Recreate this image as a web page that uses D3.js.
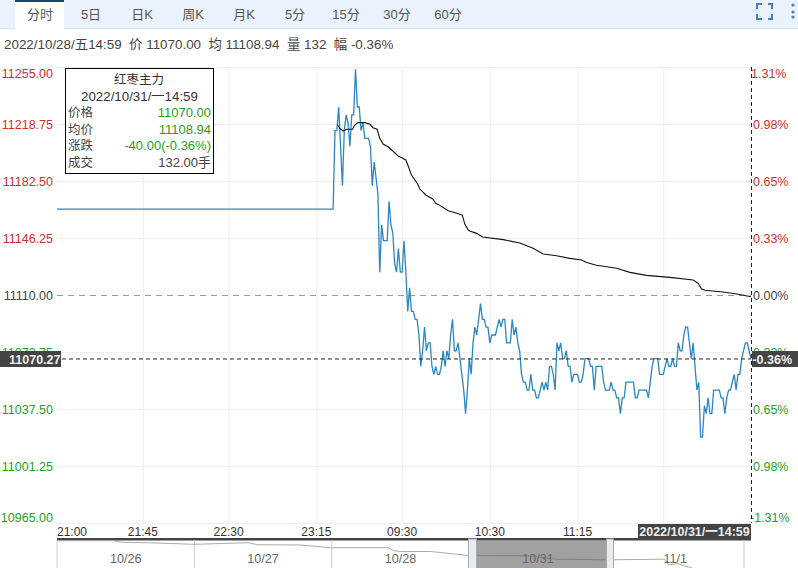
<!DOCTYPE html>
<html><head><meta charset="utf-8">
<script src="https://cdn.jsdelivr.net/npm/d3@7/dist/d3.min.js"></script>
<style>html,body{margin:0;padding:0;background:#fff;overflow:hidden}svg{display:block;font-family:"Liberation Sans","Noto Sans CJK SC",sans-serif}</style>
</head><body><svg id="c" width="798" height="568"></svg>
<script>
const tabs = ["分时","5日","日K","周K","月K","5分","15分","30分","60分"];
const priceTicks = [11255,11218.75,11182.5,11146.25,11110,11073.75,11037.5,11001.25,10965];
const pctLabels = ["1.31%","0.98%","0.65%","0.33%","0.00%","0.33%","0.65%","0.98%","-1.31%"];
const timeIdx = [0,46,92,139,185,232,279,325];
const timeLabels = ["21:00","21:45","22:30","23:15","09:30","10:30","11:15",""];
const flatSpan = [0,148];
const flatPrice = 11165;
const prices = [11215,11215,11230,11205,11180,11215,11225,11220,11205,11225,11225,11254,11230,11230,11215,11220,11210,11210,11210,11205,11180,11195,11185,11175,11125,11155,11145,11145,11145,11170,11155,11150,11130,11125,11140,11125,11125,11145,11125,
11100,11115,11100,11100,11095,11095,11085,11065,11075,11090,11075,11080,11080,11065,11060,11065,11060,11060,11065,11075,11065,11075,11070,11085,11095,11075,11075,11080,11070,11060,11050,11035,11050,11070,11060,11080,11090,11085,11095,11105,11095,11095,11090,11090,11080,11085,11085,11085,11090,11095,11090,11095,11095,11080,11080,11080,11095,11085,11090,11080,11075,11060,11055,11055,11050,11050,11060,11050,11050,11045,11045,11050,11055,11050,11055,11050,11065,11065,11060,11050,11080,11075,11080,11070,11070,11075,11065,11065,11055,11060,11060,11060,11055,11055,11060,11070,11070,11070,11065,11065,11050,
11065,11065,11065,11065,11055,11050,11050,11050,11055,11050,11050,11045,11045,11035,11045,11045,11055,11055,11055,11055,11055,11045,11045,11050,11050,11050,11050,11050,11045,11055,11065,11070,11070,11070,11060,11060,11060,11065,11070,11065,11065,11070,11065,11065,11080,11075,11075,11085,11090,11090,11080,11070,11080,11065,11050,11055,11020,11020,11040,11035,11045,11035,11035,11050,11050,11050,11050,11045,11045,11035,11045,11050,11050,11055,11060,11050,11060,11060,11070,11075,11080,11080,11075,11070];
const avgSteps = [2.4,3.6,5.4,7.2,10.4,11.6,13.4,17,19.7,21.4,23.6,25,26.8,29.5,34.9,39,40.4,42,45.3,46.5,49.7,53.6,54.9,57.2,61.7,66.2,69.2,70.6,72.4,73.3,76.9,80.1,91.2,100.1,107.2,112.6,119.8,126.9,133.2,135.9,141.2,152,159.1,168,180.5,193,195.7,197.5,199.3,209,216.5,224];
const avgPrices = [11218.1,11216,11214.3,11215.4,11215.4,11218.1,11219.6,11219.6,11218.6,11216.4,11215.4,11209.6,11206,11204.3,11198.4,11195.9,11191.6,11186.3,11180.6,11177.4,11173.6,11170.9,11168.3,11167,11163.6,11162,11160.9,11155.1,11151.3,11150.7,11149.2,11146.9,11145.2,11143.1,11139.7,11136.1,11135,11133.3,11132.3,11130.6,11128.9,11127,11124.4,11122.5,11121.2,11119.5,11117.4,11113.8,11113,11111.9,11110.6,11108.9];
const navDays = [0,0.41,0.47,0.66,1,1.39,1.46,1.77,1.99,2.41,2.45,2.5,2.72,3,3.07,3.43,3.63,4.02,4.42,4.45,4.52,4.56,4.62];
const navPrices = [11495,11495,11460,11450,11415,11450,11405,11400,11340,11340,11275,11255,11255,11165,11165,11160,11085,11070,11085,10960,10985,10940,10895];
const navDates = ["10/26","10/27","10/28","10/31","11/1"];
const tipRows = [["价格","11070.00"],["均价","11108.94"],["涨跌","-40.00(-0.36%)"],["成交","132.00手"]];
const RED="#d0302b",GREEN="#1fa01f",GRAY="#444";

const svg=d3.select("#c");
const x=d3.scaleLinear().domain([0,372]).range([57,751]);
const y=d3.scaleLinear().domain([10965,11255]).range([523,67]);
const xn=d3.scaleLinear().domain([0,5]).range([57,744]);
const yn=d3.scaleLinear().domain([10700,11495]).range([576.5,540.7]);

// toolbar
svg.append("rect").attr("width",798).attr("height",28).attr("fill","#eaf2fd");
svg.append("rect").attr("y",28).attr("width",798).attr("height",1).attr("fill","#dde5ef");
svg.append("rect").attr("x",15).attr("width",49).attr("height",29).attr("fill","#fff");
svg.append("rect").attr("x",15).attr("width",49).attr("height",2).attr("fill","#1c3f86");
svg.selectAll(".tab").data(tabs).join("text").attr("x",(d,i)=>40+i*51).attr("y",19).attr("text-anchor","middle").attr("font-size",13).attr("fill","#555").text(d=>d);
const ic=svg.append("g").attr("fill","none").attr("stroke","#4a7fc4").attr("stroke-width",2);
["M757 9V4H762","M768 4H772V9","M757 14V19H762","M768 19H772V14"].forEach(p=>ic.append("path").attr("d",p));
[5,12,17].forEach(v=>svg.append("circle").attr("cx",793).attr("cy",v).attr("r",1.6).attr("fill","#4a7fc4"));

// info row
svg.append("text").attr("x",4).attr("y",49).attr("font-size",13.4).attr("fill","#444").attr("xml:space","preserve").text("2022/10/28/五14:59  价 11070.00  均 11108.94  量 132  幅 -0.36%");

// grid
const grid=svg.append("g").attr("stroke","#eeeeee");
grid.selectAll(".h").data(priceTicks.filter(d=>d!==11110)).join("line").attr("x1",57).attr("x2",751).attr("y1",d=>y(d)+.5).attr("y2",d=>y(d)+.5);
grid.selectAll(".v").data(timeIdx.slice(1)).join("line").attr("x1",d=>x(d)+.5).attr("x2",d=>x(d)+.5).attr("y1",67).attr("y2",523);
svg.append("line").attr("x1",57).attr("x2",751).attr("y1",y(11110)+.5).attr("y2",y(11110)+.5).attr("stroke","#999").attr("stroke-dasharray","6 5");

// labels
const col=(d,i)=>i<4?RED:(i===4?GRAY:GREEN);
const dy=i=>i===0?6:(i===8?-6:0);
svg.selectAll(".yl").data(priceTicks).join("text").attr("x",53).attr("y",(d,i)=>y(d)+4.5+dy(i)).attr("text-anchor","end").attr("font-size",12.5).attr("fill",col).text(d=>d.toFixed(2));
svg.selectAll(".yr").data(pctLabels).join("text").attr("x",(d,i)=>i===8?750:(i===0?751:753)).attr("y",(d,i)=>y(priceTicks[i])+4.5+dy(i)).attr("font-size",12.5).attr("fill",col).text(d=>d);
svg.selectAll(".xl").data(timeLabels).join("text").attr("x",(d,i)=>x(timeIdx[i])).attr("y",536).attr("text-anchor",(d,i)=>i===0?"start":"middle").attr("font-size",12).attr("fill","#333").text(d=>d);

// lines
const pts=[[flatSpan[0],flatPrice],[flatSpan[1],flatPrice]].concat(prices.map((v,i)=>[flatSpan[1]+1+i,v]));
const line=d3.line().x(d=>x(d[0])).y(d=>y(d[1]));
svg.append("path").attr("d",line(pts)).attr("transform","translate(0,0.7)").attr("fill","none").attr("stroke","#2a86c4").attr("stroke-width",1.3);
svg.append("path").attr("d",line(avgSteps.map((k,i)=>[flatSpan[1]+k,avgPrices[i]]))).attr("fill","none").attr("stroke","#111").attr("stroke-width",1.1);

// crosshair
const cross=svg.append("g").attr("stroke","#222").attr("stroke-dasharray","4 3");
cross.append("line").attr("x1",62).attr("x2",751).attr("y1",y(11070.27)).attr("y2",y(11070.27)).attr("transform","translate(0,1.5)");
cross.append("line").attr("x1",751.5).attr("x2",751.5).attr("y1",67).attr("y2",523);
svg.append("rect").attr("x",0).attr("y",351).attr("width",61).attr("height",16).attr("fill","#444");
svg.append("text").attr("x",60.5).attr("y",363.5).attr("text-anchor","end").attr("font-size",12.5).attr("font-weight","bold").attr("fill","#eee").text("11070.27");
svg.append("rect").attr("x",752).attr("y",351).attr("width",46).attr("height",16).attr("fill","#444");
svg.append("text").attr("x",792).attr("y",363.5).attr("text-anchor","end").attr("font-size",12.5).attr("font-weight","bold").attr("fill","#eee").text("-0.36%");

// tooltip
svg.append("rect").attr("x",65.5).attr("y",68.5).attr("width",148).attr("height",105).attr("fill","#fff").attr("stroke","#000");
svg.append("text").attr("x",139).attr("y",84).attr("text-anchor","middle").attr("font-size",12.5).attr("fill","#333").text("红枣主力");
svg.append("text").attr("x",139.5).attr("y",101).attr("text-anchor","middle").attr("font-size",13.3).attr("fill","#333").text("2022/10/31/一14:59");
svg.selectAll(".tl").data(tipRows).join("text").attr("x",68).attr("y",(d,i)=>117+i*16.7).attr("font-size",12.5).attr("fill","#444").text(d=>d[0]);
svg.selectAll(".tv").data(tipRows).join("text").attr("x",211).attr("y",(d,i)=>117+i*16.7).attr("text-anchor","end").attr("font-size",13).attr("fill",(d,i)=>i<3?GREEN:"#444").text(d=>d[1]);

// date label & band
svg.append("rect").attr("x",57).attr("y",538).attr("width",694).attr("height",2.5).attr("fill","#444");
svg.append("rect").attr("x",638).attr("y",524).attr("width",113).attr("height",16).attr("fill","#444");
svg.append("text").attr("x",694.5).attr("y",536).attr("text-anchor","middle").attr("font-size",12.5).attr("font-weight","bold").attr("fill","#eee").text("2022/10/31/一14:59");

// navigator
svg.selectAll(".nl").data(d3.range(6)).join("line").attr("x1",d=>xn(d)).attr("x2",d=>xn(d)).attr("y1",540).attr("y2",568).attr("stroke","#ccc");
const nl=d3.line().x((d,i)=>xn(navDays[i])).y(d=>yn(d));
svg.append("path").attr("d",nl(navPrices)).attr("fill","none").attr("stroke","#aaa").attr("stroke-width",1);
svg.append("rect").attr("x",477).attr("y",540.5).attr("width",129).attr("height",27.5).attr("fill","#6f6f6f").attr("fill-opacity",.65);
svg.selectAll(".nt").data(navDates).join("text").attr("x",(d,i)=>xn(i+.5)).attr("y",563).attr("text-anchor","middle").attr("font-size",12.6).attr("fill","#666").text(d=>d);
[[468.5,8],[606.5,7]].forEach(h=>svg.append("rect").attr("x",h[0]).attr("y",539).attr("width",h[1]).attr("height",30).attr("fill","#e8ebf0").attr("stroke","#aaa"));
</script></body></html>
